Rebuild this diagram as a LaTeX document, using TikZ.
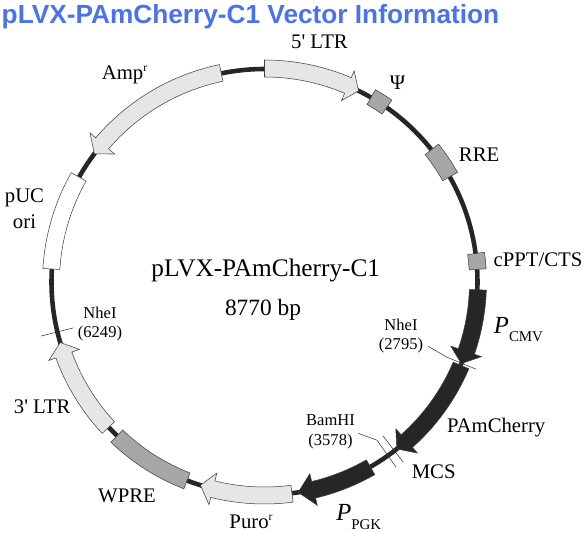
\documentclass[tikz,border=0pt]{standalone}
\usepackage{fontspec}
\setmainfont{Liberation Serif}
\newfontfamily\titlefont{Liberation Sans}
\usepackage{tikz}
\usetikzlibrary{arrows.meta, positioning}

\definecolor{titleblue}{HTML}{4A72F0}
\definecolor{ringdark}{HTML}{262626}
\definecolor{partlight}{HTML}{E6E6E6}
\definecolor{partgray}{HTML}{A6A6A6}

% arc shaped part: angle from, angle to, fill
\newcommand{\plasmidbox}[3]{
    \draw[partline, fill=#3] (#1:205) arc[start angle=#1, end angle=#2, radius=205]
        -- (#2:222) arc[start angle=#2, end angle=#1, radius=222] -- cycle;
}
% arc shaped arrow: angle from, angle of head base, angle of tip, fill
\newcommand{\plasmidarrow}[4]{
    \draw[partline, fill=#4] (#1:205) arc[start angle=#1, end angle=#2, radius=205]
        -- (#2:197) -- (#3:213) -- (#2:229.5) -- (#2:222)
        arc[start angle=#2, end angle=#1, radius=222] -- cycle;
}
% promoter label: big italic P, small name below it
\newcommand{\promoter}[1]{{\fontsize{14}{16}\selectfont\textit{P}}\raisebox{-5pt}{\fontsize{8.5}{10}\selectfont #1}}
% small raised r of the resistance labels
\newcommand{\resist}{\raisebox{4.6pt}{\fontsize{6.6}{8}\selectfont r}}

\begin{document}
\begin{tikzpicture}[
        x=0.02cm, y=0.02cm,
        every node/.style={inner sep=0pt, text=black},
        partline/.style={draw=black!75, line width=0.3pt},
        cutline/.style={draw=black!80, line width=0.3pt},
        label/.style={font=\fontsize{11.8}{14.7}\selectfont},
        sitelabel/.style={font=\fontsize{9.4}{11}\selectfont, align=center}
    ]
    % origin is the centre of the ring
    \useasboundingbox (-264.5,-251) rectangle (320.5,282);

    % Ring
    \draw[ringdark, line width=2.6pt] (0,0) circle (213);

    % Title
    \node[font=\titlefont\bfseries\fontsize{14.93}{17}\selectfont, text=titleblue] (title) at (-14,265.7) {pLVX-PAmCherry-C1 Vector Information};

    % Dark parts
    \plasmidarrow{-2.1}{-19}{-22.5}{ringdark}
    \plasmidarrow{-23}{-48.2}{-51.6}{ringdark}
    \plasmidarrow{-60.2}{-76.7}{-80.9}{ringdark}

    % Light parts
    \plasmidarrow{90}{67}{63.8}{partlight}
    \plasmidarrow{101.7}{139.5}{143}{partlight}
    \plasmidarrow{-82.6}{-104}{-107.5}{partlight}
    \plasmidarrow{-137}{-160}{-163.5}{partlight}
    \plasmidbox{150.5}{176.5}{white}

    % Gray parts
    \plasmidbox{55}{60}{partgray}
    \plasmidbox{29.6}{38.4}{partgray}
    \plasmidbox{3.4}{7.7}{partgray}
    \plasmidbox{-111.3}{-133.8}{partgray}

    % Centre text
    \node[font=\fontsize{14.4}{16}\selectfont] (name) at (1.3,12) {pLVX-PAmCherry-C1};
    \node[font=\fontsize{13.3}{15}\selectfont] (size) at (-1.5,-27.7) {8770 bp};

    % Labels
    \node[label] (ltrfive) at (55,240) {5\textquotesingle{} LTR};
    \node[label] (psi) at (133,199) {Ψ};
    \node[label] (rre) at (214.6,127) {RRE};
    \node[label] (cppt) at (273.5,22) {cPPT/CTS};
    \node[label] (pcmv) at (254,-47.5) {\promoter{CMV}};
    \node[label] (pamcherry) at (231.7,-146) {PAmCherry};
    \node[label] (mcs) at (169.2,-189.5) {MCS};
    \node[label] (ppgk) at (94.2,-235) {\promoter{PGK}};
    \node[label] (puro) at (-13.5,-240) {Puro\resist};
    \node[label] (wpre) at (-137.5,-213.5) {WPRE};
    \node[label] (ltrthree) at (-222.3,-125) {3\textquotesingle{} LTR};
    \node[label, align=center] (ori) at (-240,73) {pUC\\ori};
    \node[label] (amp) at (-140,207.5) {Amp\resist};

    % Cut sites
    \node[sitelabel] (nhefirst) at (136.5,-54) {NheI\\(2795)};
    \coordinate (nhefirstlead) at (163.2,-64);
    \coordinate (nhefirstin) at (-22.4:197);
    \coordinate (nhefirstout) at (-22.4:229);
    \draw[cutline] (nhefirstlead) -- (nhefirstin) -- (nhefirstout);

    \node[sitelabel] (bamhi) at (66,-150) {BamHI\\(3578)};
    \coordinate (bamhilead) at (93.8,-151.3);
    \coordinate (bamhiin) at (-54.6:194);
    \coordinate (bamhiout) at (-54.6:227);
    \draw[cutline] (bamhilead) -- (bamhiin) -- (bamhiout);
    \draw[cutline] (-52.4:194) -- (-52.4:227);

    \node[sitelabel] (nhelast) at (-164.5,-42) {NheI\\(6249)};
    \coordinate (nhelastin) at (-166.5:196.5);
    \coordinate (nhelastout) at (-166.4:230);
    \draw[cutline] (nhelastin) -- (nhelastout);

\end{tikzpicture}
\end{document}
